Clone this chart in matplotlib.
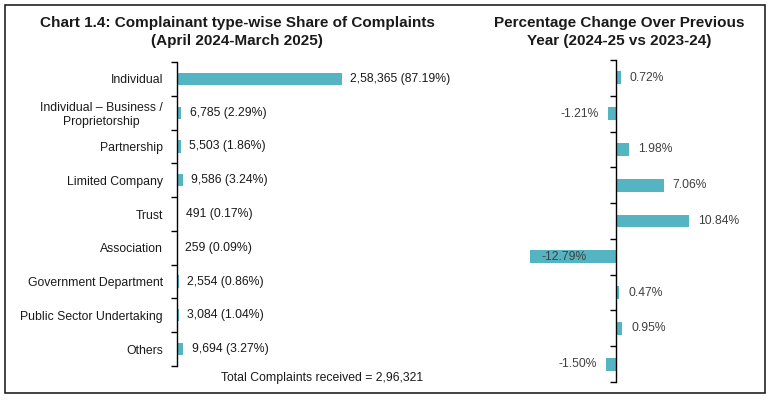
import matplotlib.pyplot as plt
from matplotlib.patches import Rectangle
import numpy as np

plt.rcParams['font.family'] = ['Liberation Sans', 'DejaVu Sans']

# data
categories = ['Individual', 'Individual \u2013 Business /\nProprietorship', 'Partnership',
              'Limited Company', 'Trust', 'Association', 'Government Department',
              'Public Sector Undertaking', 'Others']
complaints = [258365, 6785, 5503, 9586, 491, 259, 2554, 3084, 9694]
share_labels = ['2,58,365 (87.19%)', '6,785 (2.29%)', '5,503 (1.86%)', '9,586 (3.24%)',
                '491 (0.17%)', '259 (0.09%)', '2,554 (0.86%)', '3,084 (1.04%)', '9,694 (3.27%)']
pct_change = [0.72, -1.21, 1.98, 7.06, 10.84, -12.79, 0.47, 0.95, -1.50]
total_text = 'Total Complaints received = 2,96,321'

BAR = '#55b4c2'
W, H = 771, 400


def px_box(x0, y0, x1, y1):
    # pixel box (top-left origin) -> figure fraction [l, b, w, h]
    return [x0 / W, 1 - y1 / H, (x1 - x0) / W, (y1 - y0) / H]


fig = plt.figure(figsize=(W / 100, H / 100), dpi=100)

y = np.arange(len(categories))

# left panel: share of complaints
ax1 = fig.add_axes(px_box(177, 62, 437, 366))
ax1.barh(y, complaints, height=0.36, color=BAR)
ax1.set_xlim(0, 258365 * 260 / 165)
ax1.set_ylim(len(categories) - 0.5, -0.5)
for s in ['top', 'right', 'bottom']:
    ax1.spines[s].set_visible(False)
ax1.spines['left'].set_linewidth(1.0)
ax1.set_xticks([])
ax1.set_yticks(y)
ax1.set_yticklabels(categories, fontsize=8.8, color='#1a1a1a', multialignment='center')
ax1.tick_params(axis='y', which='major', length=0, pad=10)
ax1.set_yticks(np.arange(-0.5, len(categories)), minor=True)
ax1.tick_params(axis='y', which='minor', length=4, width=1.0, direction='out')
for yi, v, lab in zip(y, complaints, share_labels):
    ax1.annotate(lab, (v, yi), xytext=(6, 0), textcoords='offset points',
                 ha='left', va='center', fontsize=8.8, color='#1a1a1a')

# right panel: percentage change
ax2 = fig.add_axes(px_box(520, 60, 745, 382))
ax2.barh(y, pct_change, height=0.36, color=BAR)
ax2.set_xlim(-(616 - 520) / 6.73, (745 - 616) / 6.73)
ax2.set_ylim(len(categories) - 0.5, -0.5)
for s in ['top', 'right', 'bottom']:
    ax2.spines[s].set_visible(False)
ax2.spines['left'].set_position(('data', 0))
ax2.spines['left'].set_linewidth(1.0)
ax2.set_xticks([])
ax2.set_yticks(np.arange(-0.5, len(categories)))
ax2.set_yticklabels([])
ax2.tick_params(axis='y', length=4, width=1.0, direction='out')
for yi, v in zip(y, pct_change):
    lab = f'{v:.2f}%'
    if v >= 0:
        ax2.annotate(lab, (v, yi), xytext=(6.5, 0), textcoords='offset points',
                     ha='left', va='center', fontsize=8.7, color='#404040')
    elif v < -10:
        # long bar: label sits inside the bar
        ax2.annotate(lab, (v, yi), xytext=(8, 0), textcoords='offset points',
                     ha='left', va='center', fontsize=8.7, color='#404040')
    else:
        ax2.annotate(lab, (v, yi), xytext=(-6.5, 0), textcoords='offset points',
                     ha='right', va='center', fontsize=8.7, color='#404040')

# titles and notes
fig.text(237 / W, 1 - 32 / H, 'Chart 1.4: Complainant type-wise Share of Complaints\n(April 2024-March 2025)',
         ha='center', va='center', fontsize=11, fontweight='bold', color='#1a1a1a',
         linespacing=1.45)
fig.text(619 / W, 1 - 32 / H, 'Percentage Change Over Previous\nYear (2024-25 vs 2023-24)',
         ha='center', va='center', fontsize=11, fontweight='bold', color='#1a1a1a',
         linespacing=1.45)
fig.text(322 / W, 1 - 378 / H, total_text, ha='center', va='center', fontsize=8.8, color='#1a1a1a')

# outer frame
fig.patches.append(Rectangle((5 / W, 1 - 393 / H), 760 / W, 388 / H, transform=fig.transFigure,
                             fill=False, edgecolor='#222222', linewidth=1.2))

fig.savefig('out.png', dpi=100)
